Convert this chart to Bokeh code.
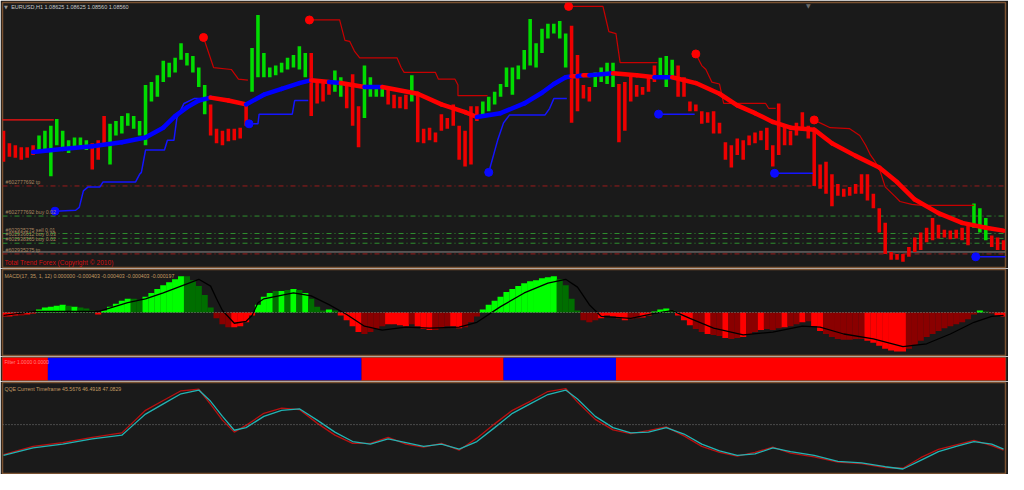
import numpy as np
from bokeh.plotting import figure
from bokeh.layouts import column
from bokeh.models import Range1d, Label, ColumnDataSource, Span
from bokeh.embed import file_html
from bokeh.resources import INLINE

# ---------------------------------------------------------------- data
SYMBOL = "EURUSD,H1"
LAST_OHLC = ["1.08625", "1.08625", "1.08560", "1.08560"]
BASE_PRICE = 1.0844      # price of the "0 pip" level used below
PIP = 0.0001

# price bars (pips above BASE_PRICE), one every bar of the sampled series
bar_high_pips = [137, 124, 122, 120, 120, 122, 132, 137, 142, 149,
                 137, 127, 130, 130, 127, 124, 127, 152, 144, 147,
                 152, 155, 152, 147, 184, 187, 194, 209, 207, 212,
                 227, 217, 214, 202, 184, 164, 139, 137, 139, 139,
                 140, 165, 222, 256, 217, 202, 204, 207, 212, 215,
                 224, 217, 217, 188, 187, 188, 199, 192, 187, 195,
                 162, 204, 192, 182, 182, 182, 174, 172, 174, 194,
                 175, 139, 140, 135, 154, 150, 164, 142, 137, 162,
                 162, 167, 172, 177, 185, 202, 202, 204, 220, 252,
                 227, 242, 247, 247, 250, 237, 245, 215, 184, 182,
                 197, 202, 207, 207, 185, 187, 195, 184, 182, 192,
                 204, 212, 214, 210, 204, 192, 167, 164, 157, 156,
                 157, 145, 125, 122, 129, 127, 132, 135, 137, 140,
                 122, 165, 142, 137, 145, 156, 142, 139, 102, 105,
                 92, 82, 77, 79, 82, 92, 92, 72, 57, 42,
                 12, 10, 10, 17, 27, 32, 37, 47, 40, 35,
                 34, 35, 37, 40, 62, 57, 47, 29, 27, 24]
bar_low_pips = [105, 110, 109, 107, 109, 112, 114, 117, 90, 122,
                120, 114, 117, 120, 117, 97, 107, 124, 102, 132,
                134, 142, 139, 132, 122, 167, 172, 187, 192, 197,
                210, 204, 197, 182, 154, 132, 124, 122, 126, 127,
                129, 142, 177, 192, 192, 192, 194, 197, 200, 202,
                200, 192, 152, 165, 167, 174, 177, 172, 160, 142,
                120, 150, 172, 172, 172, 164, 160, 160, 159, 167,
                125, 124, 127, 125, 137, 139, 142, 107, 100, 102,
                147, 154, 157, 164, 172, 182, 174, 190, 200, 204,
                202, 217, 232, 237, 232, 202, 145, 157, 170, 167,
                182, 187, 185, 182, 125, 137, 167, 172, 174, 177,
                187, 192, 182, 192, 172, 172, 157, 157, 144, 145,
                134, 134, 107, 99, 112, 107, 122, 124, 127, 117,
                100, 112, 122, 122, 132, 137, 129, 80, 77, 72,
                59, 70, 69, 70, 72, 72, 65, 57, 32, 10,
                4, 4, 2, 7, 12, 14, 22, 24, 26, 27,
                25, 26, 24, 19, 37, 32, 24, 17, 14, 14]
# trend colour of the bars as runs of (direction, number of bars)
bar_trend_runs = [("dn", 6), ("up", 9), ("dn", 3), ("up", 17), ("dn", 7),
                  ("up", 10), ("dn", 4), ("up", 2), ("dn", 3), ("up", 4),
                  ("dn", 4), ("up", 1), ("dn", 11), ("up", 15), ("dn", 4),
                  ("up", 4), ("dn", 7), ("up", 3), ("dn", 50), ("up", 3),
                  ("dn", 3)]

# thick trend moving average
ma_bar = [5, 10, 15, 20, 24, 27, 29, 31, 33, 35, 38, 41, 44, 47, 50, 52, 55, 57,
          61, 64, 70, 74, 78, 80, 84, 88, 91, 93, 95, 96, 97, 98, 99, 103, 107,
          110, 113, 117, 121, 124, 127, 130, 133, 137, 140, 144, 148, 151, 154,
          158, 162, 166, 169]
ma_pips = [115, 118, 121, 125, 130, 140, 152, 161, 168, 171, 168, 164, 174, 180,
           186, 189, 187, 186, 182, 182, 175, 164, 156, 151, 155, 165, 176, 185,
           192, 193, 193, 194, 194, 196, 194, 192, 192, 186, 175, 163, 155, 146,
           140, 138, 124, 111, 99, 84, 66, 52, 42, 37, 34]
ma_trend = list("uuuuuuuuu" "dd" "uuuu" "dudu" "dddd" "uuuuuu" "dudu" "dd" "u"
                "ddddddddddddddddd")

# trailing stops (bar, pips)
red_stop_bar = [[-0.3, 8.5],
                [33.8, 35.5, 38.5, 39.7, 41.3],
                [51.7, 56.8, 57.7, 58.5, 59.3, 60.2, 66.5, 67.2, 67.7, 73, 73.5,
                 76.3, 76.8, 76.8, 81.8],
                [95.5, 101.3, 101.8, 102.3, 103.5, 104.2, 110.5],
                [117, 118, 118.7, 119.7, 121, 121.7, 128.8, 129.3, 130.5],
                [137, 138, 139.7, 143, 144.7, 145.7, 146.5, 147.3, 148, 149,
                 150.7, 151.5, 153.5, 155.2, 164]]
red_stop_pips = [[148, 148],
                 [233, 202, 200, 190, 189],
                 [251, 251, 230, 229, 219, 212, 212, 202, 197, 197, 190, 190, 184,
                  173, 173],
                 [265, 265, 252, 239, 237, 207, 207],
                 [216, 204, 200, 187, 185, 165, 165, 160, 160],
                 [148, 145, 140, 139, 132, 122, 112, 105, 98, 79, 69, 64, 61, 60,
                  60]]
blue_stop_bar = [[8.7, 12.2, 12.8, 13.5, 14.3, 16.3, 16.8, 22.3, 23, 23.3, 24, 27.2,
                  27.7, 28.8, 29.3, 30.5, 32.2, 34.3],
                 [41.5, 43, 43.2, 48.8, 49.2, 51.5],
                 [82, 83.5, 84.5, 85, 85.5, 91.5, 92.3, 93, 95.2],
                 [110.7, 116.8],
                 [130.3, 136.8],
                 [164.3, 169.5]]
blue_stop_pips = [[54, 55, 58, 75, 79, 79, 84, 84, 92, 94, 117, 117, 127, 127, 150,
                   165, 170, 170],
                  [144, 144, 154, 154, 168, 168],
                  [94, 127, 145, 149, 153, 153, 160, 170, 170],
                  [154, 154],
                  [93, 93],
                  [7, 7]]

# order lines
order_pips = [80, 49, 31, 26, 21, 10]
order_kind = ["tp", "buy", "sell", "buy", "buy", "tp"]
order_text = ["#602777692 tp", "#602777692 buy 0.02", "#602935275 sell 0.01",
              "#602936612 buy 0.03", "#602938365 buy 0.02", "#602935275 tp"]
bid_pips = 12

# MACD (units of 0.00001)
macd_hist = [-8, -8, -6, -6, -4, -2, 6, 10, 12, 14,
             16, 14, 12, 10, 8, 4, -4, 4, 12, 18,
             24, 28, 28, 26, 32, 40, 48, 56, 62, 68,
             74, 74, 66, 54, 36, 10, -12, -24, -30, -30,
             -28, -20, -6, 16, 32, 40, 44, 44, 46, 48,
             46, 40, 28, 12, 4, 6, 4, -6, -16, -28,
             -40, -44, -40, -34, -28, -24, -24, -26, -28, -24,
             -28, -34, -36, -36, -32, -28, -28, -32, -30, -20,
             -8, 6, 16, 24, 32, 42, 48, 54, 60, 64,
             66, 70, 72, 74, 68, 56, 28, 4, -16, -20,
             -16, -12, -6, -8, -12, -16, -14, -12, -10, -6,
             2, 6, 8, 4, -6, -16, -26, -34, -40, -44,
             -46, -48, -52, -54, -52, -50, -44, -40, -36, -34,
             -36, -32, -30, -28, -24, -20, -18, -28, -38, -44,
             -50, -54, -56, -56, -54, -54, -58, -62, -68, -74,
             -78, -80, -80, -74, -66, -58, -50, -44, -38, -32,
             -28, -24, -20, -14, -4, 4, 2, -2, -6, -8]
macd_shade = ("RRRrRRGGGG" "GgGgggRGGG" "GGggGGGGGG" "GgggggrrrR" "RRRGGGgGgG"
              "gGgggGgRRR" "RrrrrRRRRr" "RRRrrrRRrr" "rGGGGGGGGG" "GGGGggggrr"
              "rRRRRRrrRR" "GGGgRRRrrR" "rrRrrRrrRr" "rrRrrRrRRr" "rrrrrrRRRR"
              "RRRrrrrrrr" "rrrrrGgrRR")
signal_bar = [0, 5, 16, 21, 24, 27, 30, 33, 35, 36, 37, 39, 41, 42, 43, 44, 49, 52,
              55, 58, 61, 64, 68, 72, 77, 80, 84, 88, 92, 95, 97, 99, 101, 106,
              110, 113, 116, 120, 125, 130, 135, 138, 142, 147, 152, 156, 160, 164,
              167, 169]
signal_val = [-6, 2, 2, 20, 28, 40, 54, 68, 54, 28, 4, -22, -18, -6, 20, 28, 40, 34,
              16, -4, -28, -36, -30, -32, -30, -20, 12, 40, 60, 68, 52, 16, -8, -12,
              -2, 4, -12, -32, -46, -40, -28, -30, -44, -54, -70, -64, -44, -20,
              -8, -6]

# Filter state switches (first bar of each run)
filter_start_bar = [0, 8, 61, 85, 104]
filter_state = ["dn", "up", "dn", "up", "dn"]

# QQE
qqe_bar = [0, 5, 10, 15, 20, 22, 24, 27, 30, 33, 35, 37, 39, 41, 44, 47, 50, 53,
           56, 59, 62, 65, 68, 71, 74, 77, 80, 83, 86, 89, 92, 95, 97, 100, 103,
           106, 109, 112, 115, 118, 121, 124, 127, 130, 133, 137, 141, 145, 149,
           152, 155, 158, 161, 164, 167, 169]
qqe_slow = [45.9, 46.9, 47.4, 48.1, 48.6, 50.0, 51.4, 52.75, 54.1, 54.6, 53.1, 51.1,
            49.25, 49.6, 51.1, 51.9, 52.1, 50.6, 49.0, 47.75, 47.4, 48.1, 47.6,
            47.1, 47.4, 46.75, 47.75, 49.6, 51.5, 52.75, 54.0, 54.6, 53.4, 51.1,
            49.6, 48.9, 49.0, 49.6, 48.75, 47.4, 46.5, 45.9, 46.1, 46.9, 46.4,
            45.9, 45.1, 44.9, 44.4, 44.1, 45.25, 46.4, 47.1, 47.75, 47.4, 46.75]
qqe_fast = [46.0, 47.1, 47.6, 48.3, 48.9, 50.4, 51.9, 53.2, 54.5, 54.7, 52.7, 50.6,
            49.0, 49.9, 51.5, 52.2, 52.0, 50.2, 48.6, 47.5, 47.5, 48.3, 47.4, 47.0,
            47.5, 46.6, 48.2, 50.1, 51.9, 53.1, 54.4, 54.8, 53.0, 50.7, 49.3, 48.8,
            49.2, 49.7, 48.5, 47.1, 46.3, 45.8, 46.3, 47.0, 46.2, 45.7, 45.0, 44.8,
            44.3, 44.2, 45.6, 46.7, 47.3, 47.9, 47.2, 46.6]

# ---------------------------------------------------------------- style
BG = "#1a1a1a"
FRAME = "#7a5232"
GREEN = "#00dc00"
RED = "#ee0000"
TAN = "#a88660"
FONT = "Liberation Sans"

n_bars = len(bar_high_pips)
assert len(bar_low_pips) == n_bars and len(macd_hist) == n_bars
assert len(macd_shade) == n_bars
assert len(ma_trend) == len(ma_bar) == len(ma_pips)
assert len(qqe_bar) == len(qqe_slow) == len(qqe_fast)
assert len(signal_bar) == len(signal_val)

bar_trend = []
for d, k in bar_trend_runs:
    bar_trend += [d] * k
assert len(bar_trend) == n_bars


def price(p):
    return BASE_PRICE + np.asarray(p, dtype=float) * PIP


x_rng = Range1d(-0.17, n_bars - 0.67)


def make_fig(h, yr, top=1, bottom=1):
    p = figure(width=1008, height=h, x_range=x_rng, y_range=Range1d(*yr),
               output_backend="svg", toolbar_location=None,
               x_axis_location=None, y_axis_location=None,
               background_fill_color=BG, border_fill_color=BG,
               min_border_left=2, min_border_right=3,
               min_border_top=top, min_border_bottom=bottom,
               outline_line_color=FRAME, outline_line_width=1.5)
    p.grid.visible = False
    return p


def add_label(p, x, y, text, color, size, baseline="top", yoff=0, font=FONT):
    p.add_layout(Label(x=x, y=y, text=text, text_color=color,
                       text_font_size=size, text_baseline=baseline,
                       y_offset=yoff, text_font=font))


# ---------------------------------------------------------------- main chart
y_main = (float(price(-4)), float(price(269)))
pm = make_fig(268, y_main, top=2, bottom=1)

for lvl, kind in zip(order_pips, order_kind):
    col = "#9b1c1c" if kind == "tp" else "#2f8f2f"
    pm.add_layout(Span(location=float(price(lvl)), dimension="width",
                       line_color=col, line_width=1, line_dash="5 3 1 3",
                       level="underlay"))
pm.add_layout(Span(location=float(price(bid_pips)), dimension="width",
                   line_color="#8a8a8a", line_width=1, level="underlay"))

bars = ColumnDataSource(dict(
    x=np.arange(n_bars), hi=price(bar_high_pips), lo=price(bar_low_pips),
    color=[GREEN if t == "up" else RED for t in bar_trend]))
pm.vbar(x="x", top="hi", bottom="lo", width=0.6, fill_color="color",
        line_color=None, source=bars)

# trailing stops
for i, (xs, ys) in enumerate(zip(red_stop_bar, red_stop_pips)):
    pm.line(xs, price(ys), line_color="#ff1010" if i == 0 else "#c80000",
            line_width=1.2)
pm.scatter([xs[0] for xs in red_stop_bar[1:]],
           price([ys[0] for ys in red_stop_pips[1:]]),
           size=8, color="#ff0000")
for xs, ys in zip(blue_stop_bar, blue_stop_pips):
    pm.line(xs, price(ys), line_color="#1414ff", line_width=1.5)
pm.scatter([xs[0] for xs in blue_stop_bar], price([ys[0] for ys in blue_stop_pips]),
           size=8, color="#0a0aff")

# thick moving average, coloured by trend
ma_y = price(ma_pips)
pm.segment(x0=ma_bar[:-1], y0=ma_y[:-1], x1=ma_bar[1:], y1=ma_y[1:],
           line_color=["#0000ff" if t == "u" else "#ff0000" for t in ma_trend[:-1]],
           line_width=4.5, line_cap="round")

add_label(pm, 0.1, y_main[1], "\u25bc", "#9a9a9a", "5px", yoff=-1.5,
          font="DejaVu Sans")
add_label(pm, 1.3, y_main[1], SYMBOL + "  " + " ".join(LAST_OHLC), "#c8c8c8",
          "5.5px", yoff=-1.5)
add_label(pm, 135.6, y_main[1], "\u25bc", "#6a6a6a", "6px", yoff=1,
          font="DejaVu Sans")
for lvl, txt in zip(order_pips, order_text):
    add_label(pm, 0.35, float(price(lvl)), txt, TAN, "5.2px",
              baseline="bottom", yoff=1)
add_label(pm, 0.15, y_main[0], "Total Trend Forex (Copyright \u00a9 2010)",
          "#d01010", "6.6px", baseline="bottom", yoff=2)

# ---------------------------------------------------------------- MACD
MACD_UNIT = 0.00001
y_macd = (-88 * MACD_UNIT, 88 * MACD_UNIT)
pd_ = make_fig(88, y_macd)
shade_col = {"G": "#00ff00", "g": "#006e00", "R": "#ff0000", "r": "#8a0000"}
macd_src = ColumnDataSource(dict(
    x=np.arange(n_bars), top=np.array(macd_hist) * MACD_UNIT,
    color=[shade_col[c] for c in macd_shade]))
pd_.vbar(x="x", top="top", bottom=0, width=1.03, fill_color="color",
         line_color=None, source=macd_src)
pd_.add_layout(Span(location=0, dimension="width", line_color="#7f8a7f",
                    line_width=1, line_dash="1 2"))
pd_.line(signal_bar, np.array(signal_val) * MACD_UNIT, line_color="#000000",
         line_width=1.3)
add_label(pd_, 0.15, y_macd[1],
          "MACD(17, 35, 1, 12) 0.000000 -0.000403 -0.000403 -0.000403 -0.000197",
          "#c49a62", "5.2px", yoff=-3)

# ---------------------------------------------------------------- Filter
pf = make_fig(25, (0, 1))
f_left = [b - 0.5 for b in filter_start_bar]
f_right = f_left[1:] + [n_bars - 0.5]
pf.quad(left=f_left, right=f_right, bottom=0, top=1,
        fill_color=["#0000ff" if s == "up" else "#ff0000" for s in filter_state],
        line_color=None)
add_label(pf, 0.15, 1, "Filter 1.0000 0.0000", "#ff8080", "5px", yoff=-1.5)

# ---------------------------------------------------------------- QQE
y_qqe = (43.5, 55.6)
pq = make_fig(93, y_qqe)
pq.add_layout(Span(location=50, dimension="width", line_color="#7a7a7a",
                   line_width=1, line_dash="1 2"))
pq.line(qqe_bar, qqe_fast, line_color="#b81010", line_width=1.3)
pq.line(qqe_bar, qqe_slow, line_color="#22b4b4", line_width=1.3)
add_label(pq, 0.15, y_qqe[1], "QQE Current Timeframe 45.5676 46.4918 47.0829",
          "#c49a62", "5.2px", yoff=-3.5)

layout = column(pm, pd_, pf, pq, spacing=0)
open("out.html", "w").write(file_html(layout, INLINE))
